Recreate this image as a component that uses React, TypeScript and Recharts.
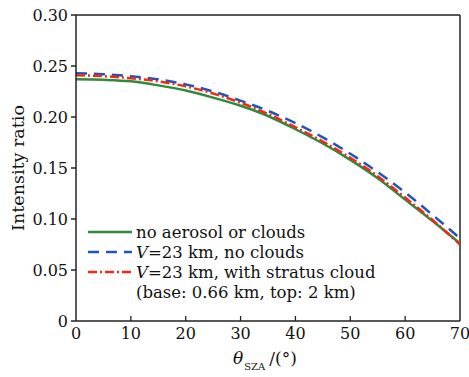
import React from "react";
import { LineChart, Line, XAxis, YAxis, ReferenceLine } from "recharts";

const sza = [0, 5, 10, 15, 20, 25, 30, 35, 40, 45, 50, 55, 60, 65, 70];
const noAerosol = [0.237, 0.2365, 0.235, 0.231, 0.226, 0.219, 0.211, 0.201, 0.188, 0.174, 0.158, 0.14, 0.119, 0.098, 0.076];
const v23NoCloud = [0.243, 0.242, 0.24, 0.237, 0.232, 0.225, 0.216, 0.206, 0.194, 0.18, 0.164, 0.146, 0.126, 0.104, 0.081];
const v23Stratus = [0.241, 0.24, 0.238, 0.235, 0.23, 0.223, 0.214, 0.203, 0.19, 0.176, 0.16, 0.142, 0.121, 0.099, 0.075];
const xTicks = [0, 10, 20, 30, 40, 50, 60, 70];
const yTicks = [0, 0.05, 0.1, 0.15, 0.2, 0.25, 0.3];

const data = sza.map((s, i) => ({
  sza: s,
  a: noAerosol[i],
  b: v23NoCloud[i],
  c: v23Stratus[i],
}));

const FONT = "DejaVu Serif";
const AXIS = "#222";
const GREEN = "#2e8b3a";
const BLUE = "#2255b8";
const RED = "#f02a1a";

const XTick = (props: any) => {
  const { x, y, payload } = props;
  return (
    <g>
      {payload.value !== 0 && payload.value !== 70 && (
        <line x1={x} y1={y} x2={x} y2={y - 5} stroke={AXIS} strokeWidth={1.3} />
      )}
      <text x={x} y={y + 18} textAnchor="middle" fontFamily={FONT} fontSize={16} fill="#111">
        {payload.value}
      </text>
    </g>
  );
};

const YTick = (props: any) => {
  const { x, y, payload } = props;
  const v = payload.value as number;
  return (
    <text x={x} y={y + 5.5} textAnchor="end" fontFamily={FONT} fontSize={16} fill="#111">
      {v === 0 ? "0" : v.toFixed(2)}
    </text>
  );
};

const LegendOverlay = () => {
  const rows = [
    { color: GREEN, dash: undefined as string | undefined, text: <tspan>no aerosol or clouds</tspan> },
    { color: BLUE, dash: "11 7", text: <><tspan fontStyle="italic">V</tspan><tspan>=23 km, no clouds</tspan></> },
    { color: RED, dash: "9 3 2 3", text: <><tspan fontStyle="italic">V</tspan><tspan>=23 km, with stratus cloud</tspan></> },
  ];
  return (
    <svg width={360} height={90} style={{ position: "absolute", left: 80, top: 220, display: "block" }}>
      {rows.map((r, i) => (
        <g key={i}>
          <line x1={8} x2={52} y1={12 + i * 20} y2={12 + i * 20} stroke={r.color} strokeWidth={2.5} strokeDasharray={r.dash} />
          <text x={56} y={17.5 + i * 20} fontFamily={FONT} fontSize={16.5} fill="#111">{r.text}</text>
        </g>
      ))}
      <text x={56} y={17.5 + 60} fontFamily={FONT} fontSize={16.5} fill="#111">(base: 0.66 km, top: 2 km)</text>
    </svg>
  );
};

export default function App() {
  return (
    <div style={{ position: "absolute", left: 0, top: 0, width: 469, height: 377, background: "#fff" }}>
      <LineChart width={469} height={377} data={data} margin={{ top: 15, right: 9, left: 0, bottom: 26 }}>
        <XAxis
          dataKey="sza"
          type="number"
          domain={[0, 70]}
          ticks={xTicks}
          tickSize={0}
          tickMargin={0}
          tick={<XTick />}
          height={30}
          stroke={AXIS}
          strokeWidth={1.5}
          interval={0}
        />
        <YAxis
          type="number"
          domain={[0, 0.3]}
          ticks={yTicks}
          width={76}
          tickSize={5}
          tickMargin={3}
          stroke={AXIS}
          strokeWidth={1.5}
          tick={<YTick />}
          interval={0}
        />
        <ReferenceLine y={0.3} stroke={AXIS} strokeWidth={1.5} ifOverflow="extendDomain" />
        <ReferenceLine x={70} stroke={AXIS} strokeWidth={1.5} ifOverflow="extendDomain" />
        <Line dataKey="a" stroke={GREEN} strokeWidth={2.5} dot={false} isAnimationActive={false} type="monotone" />
        <Line dataKey="b" stroke={BLUE} strokeWidth={2.5} strokeDasharray="11 7" dot={false} isAnimationActive={false} type="monotone" />
        <Line dataKey="c" stroke={RED} strokeWidth={2.5} strokeDasharray="9 3 2 3" dot={false} isAnimationActive={false} type="monotone" />
        <text x={0} y={0} transform="translate(24,168) rotate(-90)" textAnchor="middle" fontFamily={FONT} fontSize={17.5} fill="#111">
          Intensity ratio
        </text>
        <text x={233} y={364} fontFamily={FONT} fontSize={17} fill="#111">
          <tspan fontStyle="italic">θ</tspan>
          <tspan fontSize={10} dy={6} dx={1}>SZA</tspan>
          <tspan dy={-6} dx={4}>/(°)</tspan>
        </text>
      </LineChart>
      <LegendOverlay />
    </div>
  );
}
